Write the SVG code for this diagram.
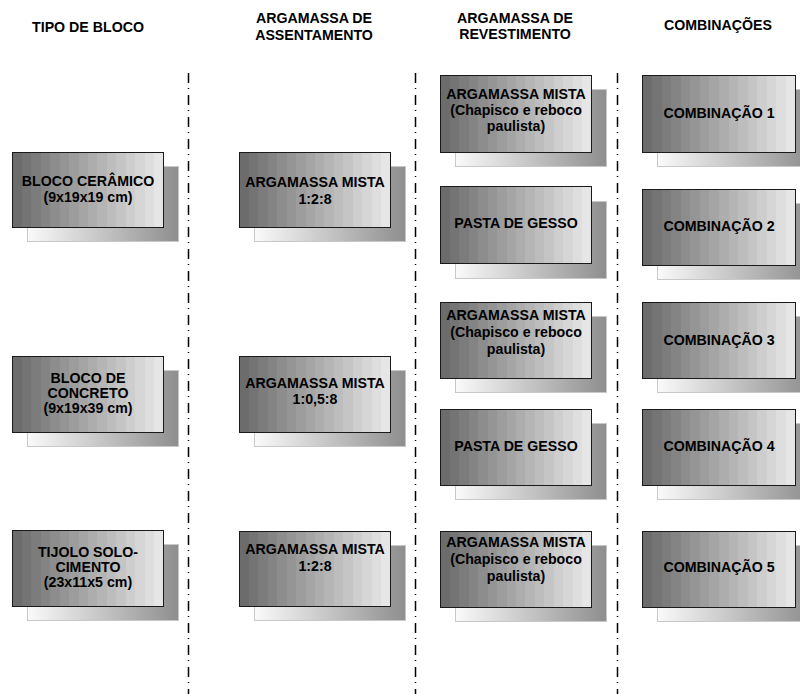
<svg xmlns="http://www.w3.org/2000/svg" width="800" height="694" viewBox="0 0 800 694">
<defs>
<linearGradient id="front" x1="0" y1="0" x2="1" y2="0">
<stop offset="0" stop-color="#6c6c6c"/><stop offset="0.0625" stop-color="#6c6c6c"/>
<stop offset="0.0625" stop-color="#747474"/><stop offset="0.125" stop-color="#747474"/>
<stop offset="0.125" stop-color="#7c7c7c"/><stop offset="0.1875" stop-color="#7c7c7c"/>
<stop offset="0.1875" stop-color="#848484"/><stop offset="0.25" stop-color="#848484"/>
<stop offset="0.25" stop-color="#8d8d8d"/><stop offset="0.3125" stop-color="#8d8d8d"/>
<stop offset="0.3125" stop-color="#959595"/><stop offset="0.375" stop-color="#959595"/>
<stop offset="0.375" stop-color="#9d9d9d"/><stop offset="0.4375" stop-color="#9d9d9d"/>
<stop offset="0.4375" stop-color="#a5a5a5"/><stop offset="0.5" stop-color="#a5a5a5"/>
<stop offset="0.5" stop-color="#adadad"/><stop offset="0.5625" stop-color="#adadad"/>
<stop offset="0.5625" stop-color="#b5b5b5"/><stop offset="0.625" stop-color="#b5b5b5"/>
<stop offset="0.625" stop-color="#bdbdbd"/><stop offset="0.6875" stop-color="#bdbdbd"/>
<stop offset="0.6875" stop-color="#c5c5c5"/><stop offset="0.75" stop-color="#c5c5c5"/>
<stop offset="0.75" stop-color="#cecece"/><stop offset="0.8125" stop-color="#cecece"/>
<stop offset="0.8125" stop-color="#d6d6d6"/><stop offset="0.875" stop-color="#d6d6d6"/>
<stop offset="0.875" stop-color="#dedede"/><stop offset="0.9375" stop-color="#dedede"/>
<stop offset="0.9375" stop-color="#e6e6e6"/><stop offset="1" stop-color="#e6e6e6"/>
</linearGradient>
<linearGradient id="shadow" x1="0" y1="0" x2="1" y2="0">
<stop offset="0" stop-color="#fafafa"/>
<stop offset="1" stop-color="#8e8e8e"/>
</linearGradient>
</defs>
<style>
.sh{fill:url(#shadow);stroke:#c8c8c8;stroke-width:1}
.fr{fill:url(#front);stroke:#1a1a1a;stroke-width:1}
text{font-family:"Liberation Sans",Arial,sans-serif;font-size:14.2px;font-weight:bold;fill:#000;text-anchor:middle}
.sep{stroke:#000;stroke-width:1.5;stroke-dasharray:10 5 1 6;fill:none}
</style>
<g id="headers">
<text x="88" y="32">TIPO DE BLOCO</text>
<text x="314" y="23">ARGAMASSA DE</text>
<text x="314" y="40">ASSENTAMENTO</text>
<text x="515" y="23">ARGAMASSA DE</text>
<text x="515" y="39">REVESTIMENTO</text>
<text x="718" y="30">COMBINAÇÕES</text>
</g>
<g id="separators">
<line class="sep" x1="188.5" y1="73" x2="188.5" y2="694"/>
<line class="sep" x1="415.5" y1="73" x2="415.5" y2="694"/>
<line class="sep" x1="617.5" y1="73" x2="617.5" y2="694"/>
</g>
<g id="bloco1">
<rect class="sh" x="27.5" y="166.5" width="151" height="75"/>
<rect class="fr" x="12.5" y="152.5" width="151" height="75"/>
<text x="88" y="186">BLOCO CERÂMICO</text>
<text x="88" y="202">(9x19x19 cm)</text>
</g>
<g id="bloco2">
<rect class="sh" x="27.5" y="370.5" width="151" height="76"/>
<rect class="fr" x="12.5" y="356.5" width="151" height="76"/>
<text x="88" y="383">BLOCO DE</text>
<text x="88" y="398">CONCRETO</text>
<text x="88" y="413">(9x19x39 cm)</text>
</g>
<g id="bloco3">
<rect class="sh" x="27.5" y="544.5" width="151" height="76"/>
<rect class="fr" x="12.5" y="530.5" width="151" height="76"/>
<text x="88" y="557">TIJOLO SOLO-</text>
<text x="88" y="572">CIMENTO</text>
<text x="88" y="587">(23x11x5 cm)</text>
</g>
<g id="assent1">
<rect class="sh" x="254.5" y="166.5" width="151" height="75"/>
<rect class="fr" x="239.5" y="152.5" width="151" height="75"/>
<text x="315" y="187">ARGAMASSA MISTA</text>
<text x="315" y="204">1:2:8</text>
</g>
<g id="assent2">
<rect class="sh" x="254.5" y="370.5" width="151" height="76"/>
<rect class="fr" x="239.5" y="356.5" width="151" height="76"/>
<text x="315" y="388">ARGAMASSA MISTA</text>
<text x="315" y="404">1:0,5:8</text>
</g>
<g id="assent3">
<rect class="sh" x="254.5" y="545.5" width="151" height="75"/>
<rect class="fr" x="239.5" y="531.5" width="151" height="75"/>
<text x="315" y="554">ARGAMASSA MISTA</text>
<text x="315" y="571">1:2:8</text>
</g>
<g id="revest1">
<rect class="sh" x="455.5" y="89.5" width="151" height="77"/>
<rect class="fr" x="440.5" y="75.5" width="151" height="77"/>
<text x="516" y="99">ARGAMASSA MISTA</text>
<text x="516" y="115">(Chapisco e reboco</text>
<text x="516" y="131">paulista)</text>
</g>
<g id="revest2">
<rect class="sh" x="455.5" y="201.5" width="151" height="77"/>
<rect class="fr" x="440.5" y="186.5" width="151" height="77"/>
<text x="516" y="228">PASTA DE GESSO</text>
</g>
<g id="revest3">
<rect class="sh" x="455.5" y="316.5" width="151" height="76"/>
<rect class="fr" x="440.5" y="302.5" width="151" height="76"/>
<text x="516" y="320">ARGAMASSA MISTA</text>
<text x="516" y="337">(Chapisco e reboco</text>
<text x="516" y="354">paulista)</text>
</g>
<g id="revest4">
<rect class="sh" x="455.5" y="423.5" width="151" height="76"/>
<rect class="fr" x="440.5" y="409.5" width="151" height="76"/>
<text x="516" y="451">PASTA DE GESSO</text>
</g>
<g id="revest5">
<rect class="sh" x="455.5" y="545.5" width="151" height="76"/>
<rect class="fr" x="440.5" y="531.5" width="151" height="76"/>
<text x="516" y="547">ARGAMASSA MISTA</text>
<text x="516" y="564">(Chapisco e reboco</text>
<text x="516" y="581">paulista)</text>
</g>
<g id="comb1">
<rect class="sh" x="657.5" y="89.5" width="153" height="77"/>
<rect class="fr" x="642.5" y="75.5" width="153" height="77"/>
<text x="719" y="118">COMBINAÇÃO 1</text>
</g>
<g id="comb2">
<rect class="sh" x="657.5" y="203.5" width="153" height="76"/>
<rect class="fr" x="642.5" y="189.5" width="153" height="76"/>
<text x="719" y="231">COMBINAÇÃO 2</text>
</g>
<g id="comb3">
<rect class="sh" x="657.5" y="316.5" width="153" height="76"/>
<rect class="fr" x="642.5" y="302.5" width="153" height="76"/>
<text x="719" y="345">COMBINAÇÃO 3</text>
</g>
<g id="comb4">
<rect class="sh" x="657.5" y="423.5" width="153" height="76"/>
<rect class="fr" x="642.5" y="409.5" width="153" height="76"/>
<text x="719" y="451">COMBINAÇÃO 4</text>
</g>
<g id="comb5">
<rect class="sh" x="657.5" y="545.5" width="153" height="76"/>
<rect class="fr" x="642.5" y="531.5" width="153" height="76"/>
<text x="719" y="572">COMBINAÇÃO 5</text>
</g>
</svg>
